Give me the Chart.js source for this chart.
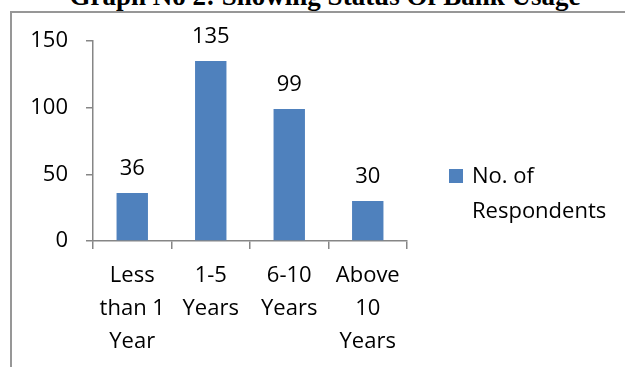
<!DOCTYPE html>
<html>
<head>
<meta charset="utf-8">
<script src="https://cdn.jsdelivr.net/npm/chart.js@4.4.1/dist/chart.umd.min.js"></script>
<style>
  html, body { margin: 0; padding: 0; background: #fff; }
  #wrap { position: relative; width: 625px; height: 367px; overflow: hidden; background: #fff; }
  #frame { position: absolute; left: 10px; top: 11px; width: 640px; height: 400px;
           border-left: 2px solid #979797; border-top: 2px solid #979797; }
  #title { position: absolute; left: 0; width: 650px; top: -17px; text-align: center;
           font: bold 27px "Liberation Serif", "Times New Roman", serif; line-height: 27px; color: #000; white-space: nowrap; }
  #chart { position: absolute; left: 0; top: 0; }
  #legend { position: absolute; left: 449px; top: 157px; font: 22px "Open Sans", Lato, sans-serif; color: #000; }
  #legend .box { position: absolute; left: 0; top: 12px; width: 14px; height: 14px; }
  #legend .txt { position: absolute; left: 23px; top: 0; line-height: 35px; white-space: nowrap; }
</style>
</head>
<body>
<div id="wrap">
  <div id="frame"></div>
  <div id="title">Graph No 2: Showing Status Of Bank Usage</div>
  <canvas id="chart" width="625" height="367"></canvas>
  <div id="legend"><div class="box"></div><div class="txt"></div></div>
</div>
<script>
// Years of bank usage and respondent counts
const categories = [
  ["Less", "than 1", "Year"],
  ["1-5", "Years"],
  ["6-10", "Years"],
  ["Above", "10", "Years"]
];
const seriesName = ["No. of", "Respondents"];
const respondents = [36, 135, 99, 30];
const yTicks = [0, 50, 100, 150];

const barColor = "#4F81BD";
const axisColor = "#868686";
const labelFont = { family: "'Open Sans', Lato, sans-serif", size: 22 };

// Legend (HTML)
document.querySelector("#legend .box").style.background = barColor;
document.querySelector("#legend .txt").innerHTML = seriesName.join("<br>");

// Value labels above each bar, positioned from the bar elements
const valueLabels = {
  id: "valueLabels",
  afterDatasetsDraw(chart) {
    const ctx = chart.ctx;
    ctx.save();
    ctx.font = labelFont.size + "px " + labelFont.family;
    ctx.fillStyle = "#000";
    ctx.textAlign = "center";
    ctx.textBaseline = "alphabetic";
    chart.getDatasetMeta(0).data.forEach((bar, i) => {
      ctx.fillText(String(chart.data.datasets[0].data[i]), bar.x, bar.y - 18);
    });
    ctx.restore();
  }
};

new Chart(document.getElementById("chart"), {
  type: "bar",
  data: {
    labels: categories,
    datasets: [{
      label: seriesName.join(" "),
      data: respondents,
      backgroundColor: barColor,
      borderWidth: 0,
      categoryPercentage: 1.0,
      barPercentage: 0.4
    }]
  },
  options: {
    responsive: false,
    animation: false,
    devicePixelRatio: 1,
    layout: { padding: { left: 0, right: 218, top: 41, bottom: 0 } },
    plugins: {
      legend: { display: false },
      title: { display: false },
      tooltip: { enabled: false }
    },
    scales: {
      x: {
        offset: true,
        grid: { offset: true, drawOnChartArea: false, drawTicks: true, tickLength: 8, color: axisColor, lineWidth: 1.5 },
        border: { display: true, color: axisColor, width: 1.5 },
        ticks: { color: "#000", font: { ...labelFont, lineHeight: "33px" }, padding: 10, maxRotation: 0, autoSkip: false },
        afterFit(scale) { scale.height = 126; }
      },
      y: {
        min: 0,
        max: 150,
        afterBuildTicks(scale) { scale.ticks = yTicks.map(v => ({ value: v })); },
        grid: { drawOnChartArea: false, drawTicks: true, tickLength: 7, color: axisColor, lineWidth: 1.5 },
        border: { display: true, color: axisColor, width: 1.5 },
        ticks: { color: "#000", font: labelFont, padding: 18 },
        afterFit(scale) { scale.width = 93; }
      }
    }
  },
  plugins: [valueLabels]
});
</script>
</body>
</html>
